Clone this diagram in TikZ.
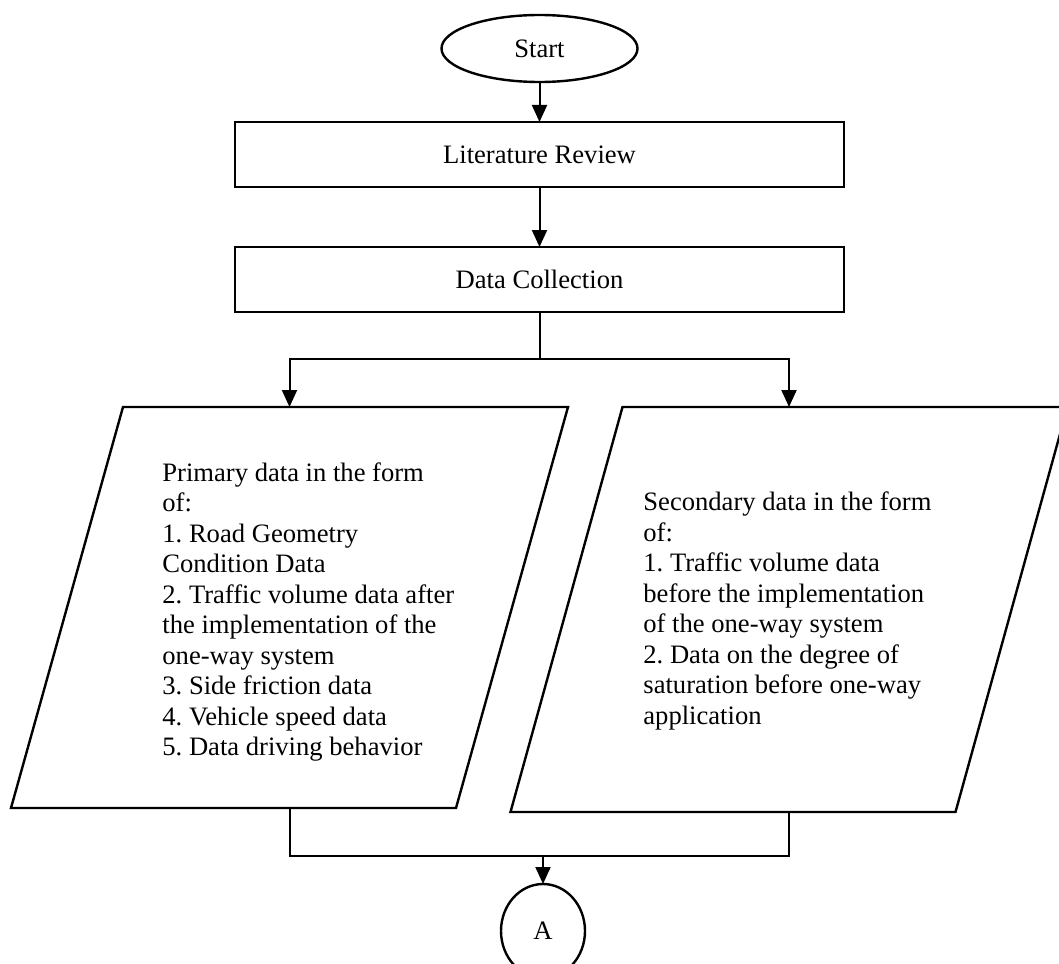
\documentclass[tikz,border=0pt]{standalone}
\usepackage{fontspec}
\setmainfont{Liberation Serif}
\frenchspacing
\usetikzlibrary{positioning,shapes.geometric,arrows.meta,calc}
\tikzset{flowshape/.style={draw,line width=1.2pt,inner sep=0pt,outer sep=0pt,
    font=\fontsize{13.3}{15.25}\selectfont}}
\tikzset{terminal/.style={flowshape,ellipse,minimum width=98pt,minimum height=33.5pt}}
\tikzset{process/.style={flowshape,rectangle,minimum width=304.5pt,minimum height=32.5pt}}
\tikzset{io/.style={rectangle,inner sep=0pt,outer sep=0pt,minimum width=278.5pt,minimum height=200.5pt}}
\tikzset{listtext/.style={inner sep=0pt,align=left,anchor=west,
    font=\fontsize{13.3}{15.25}\selectfont\frenchspacing}}
\tikzset{connector/.style={flowshape,ellipse,minimum width=42pt,minimum height=47pt}}
\tikzset{link/.style={line width=1pt}}
\tikzset{flow/.style={link,-{Triangle[length=8.5pt,width=7.5pt]}}}

\begin{document}
\begin{tikzpicture}[x=0.5pt,y=-0.5pt]
  \useasboundingbox (0,0) rectangle (1059,963);
  \node[terminal] (start) at (539.5,48.5) {Start};
  \node[process] (litrev) at (539.5,154.5) {Literature Review};
  \node[process] (datacol) at (539.5,279.5) {Data Collection};
  \node[io] (prim) at (289.5,607.5) {};
  \node[io,minimum height=202.5pt] (sec) at (789,609.5) {};
  % slanted input boxes
  \foreach \blk in {prim,sec}
    \draw[line width=1.2pt,line join=miter] ($(\blk.north west)+(112,0)$) -- (\blk.north east)
      -- ($(\blk.south east)+(-112,0)$) -- (\blk.south west) -- cycle;
  \node[listtext] (primtext) at (162,612) {Primary data in the form\\of:\\1. Road Geometry\\
    Condition Data\\2. Traffic volume data after\\the implementation of the\\one-way system\\
    3. Side friction data\\4. Vehicle speed data\\5. Data driving behavior};
  \node[listtext] (sectext) at (643,611) {Secondary data in the form\\of:\\1. Traffic volume data\\
    before the implementation\\of the one-way system\\2. Data on the degree of\\
    saturation before one-way\\application};
  \node[connector] (conA) at (543,931) {A};
  \coordinate (fork) at (539.5,359);
  \coordinate (merge) at (543,856);
  \draw[flow] (start) -- (litrev);
  \draw[flow] (litrev) -- (datacol);
  \draw[link] (datacol) -- (fork);
  \draw[flow] (fork) -| (prim.north);
  \draw[flow] (fork) -| (sec.north);
  \draw[link] (prim.south) |- (merge) -| (sec.south);
  \draw[flow] (merge) -- (conA);
\end{tikzpicture}
\end{document}
